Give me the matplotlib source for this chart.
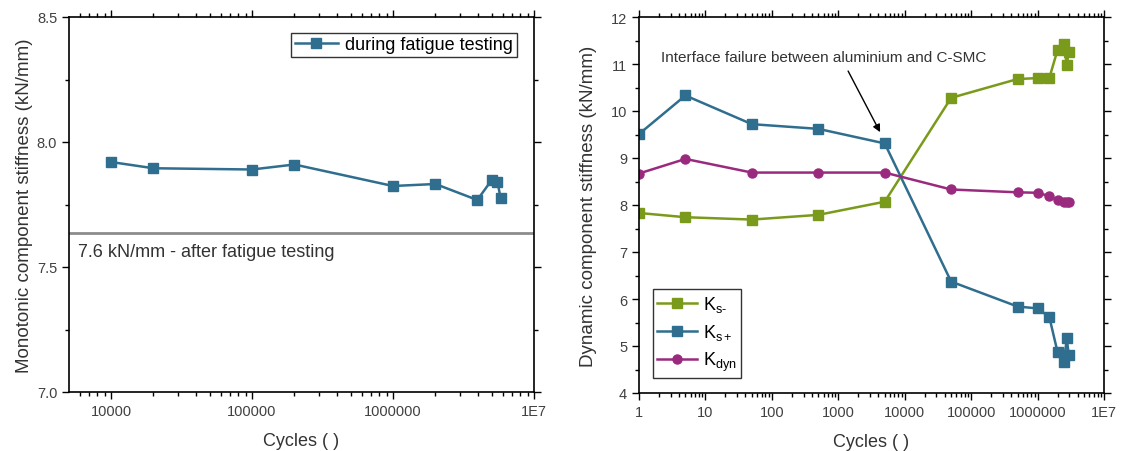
import matplotlib
matplotlib.use("Agg")
import matplotlib.pyplot as plt
import matplotlib.ticker as mticker
import numpy as np

plt.rcParams['font.family'] = ['Liberation Sans', 'DejaVu Sans']
plt.rcParams['mathtext.fontset'] = 'custom'
plt.rcParams['mathtext.rm'] = 'Liberation Sans'
plt.rcParams['mathtext.it'] = 'Liberation Sans'

# ---- left panel data ----
mono_cycles = [10000, 20000, 100000, 200000, 1000000, 2000000, 3960000, 5000000, 5500000, 5800000]
mono_stiff = [7.92, 7.895, 7.89, 7.91, 7.824, 7.832, 7.768, 7.847, 7.842, 7.775]
after_fatigue = 7.638
after_label = "7.6 kN/mm - after fatigue testing"

# ---- right panel data ----
dyn_cycles = [1, 5, 50, 500, 5000, 50000, 500000, 1000000, 1500000, 2000000, 2500000, 2750000, 2950000]
ks_minus = [7.83, 7.74, 7.69, 7.79, 8.07, 10.28, 10.68, 10.70, 10.70, 11.30, 11.43, 10.98, 11.26]
ks_plus = [9.51, 10.33, 9.72, 9.62, 9.31, 6.37, 5.84, 5.80, 5.62, 4.87, 4.67, 5.16, 4.81]
k_dyn = [8.67, 8.98, 8.69, 8.69, 8.69, 8.33, 8.27, 8.26, 8.19, 8.11, 8.07, 8.06, 8.06]
note = 'Interface failure between aluminium and C-SMC'

blue = '#2F6E8E'
green = '#7A9A1B'
purple = '#9A2A7E'
tick_col = '#404040'
text_col = '#333333'

fig = plt.figure(figsize=(11.21, 4.52), dpi=100)
axL = fig.add_axes([69/1121, 59/452, 465/1121, 375/452])
axR = fig.add_axes([639/1121, 58/452, 465/1121, 376/452])


def style(ax):
    ax.set_xscale('log')
    ax.tick_params(which='both', direction='out', top=True, right=True,
                   labelsize=10.5, labelcolor=tick_col, width=1, color='black')
    ax.tick_params(which='major', length=5)
    ax.tick_params(which='minor', length=3)
    for s in ax.spines.values():
        s.set_linewidth(1.2)


def fmt(x, pos):
    if x >= 1e7 - 1:
        return '1E7'
    return '%d' % int(round(x))


def log_x(ax):
    ax.xaxis.set_major_locator(mticker.LogLocator(base=10, numticks=20))
    ax.xaxis.set_minor_locator(mticker.LogLocator(base=10, subs=np.arange(2, 10), numticks=20))
    ax.xaxis.set_major_formatter(mticker.FuncFormatter(fmt))
    ax.xaxis.set_minor_formatter(mticker.NullFormatter())


# left
style(axL)
axL.plot(mono_cycles, mono_stiff, '-s', color=blue, lw=1.8, ms=6.5,
         label='during fatigue testing')
axL.axhline(after_fatigue, color='#8c8c8c', lw=2)
axL.text(0.019, 7.56, after_label, transform=axL.get_yaxis_transform(),
         fontsize=13, color=text_col, va='center', ha='left')
axL.set_xlim(5040, 1e7)
axL.set_ylim(7.0, 8.5)
axL.yaxis.set_major_locator(mticker.MultipleLocator(0.5))
axL.yaxis.set_minor_locator(mticker.MultipleLocator(0.25))
axL.yaxis.set_major_formatter(mticker.FormatStrFormatter('%.1f'))
log_x(axL)
axL.set_xlabel('Cycles ( )', fontsize=13, color=text_col, labelpad=10)
axL.set_ylabel('Monotonic component stiffness (kN/mm)', fontsize=13.5, color=text_col, labelpad=3)
legL = axL.legend(loc='upper right', bbox_to_anchor=(0.963, 0.958), fontsize=13,
                  frameon=True, fancybox=False, edgecolor='black', handlelength=2.4,
                  borderpad=0.2, handletextpad=0.4, borderaxespad=0)
legL.get_frame().set_linewidth(1.0)

# right
style(axR)
axR.plot(dyn_cycles, ks_minus, '-s', color=green, lw=1.8, ms=6.5, label=r'K$_{\mathrm{s}\text{-}}$')
axR.plot(dyn_cycles, ks_plus, '-s', color=blue, lw=1.8, ms=6.5, label=r'K$_{\mathrm{s+}}$')
axR.plot(dyn_cycles, k_dyn, '-o', color=purple, lw=1.8, ms=6.5, label=r'K$_{\mathrm{dyn}}$')
axR.set_xlim(1, 1e7)
axR.set_ylim(4, 12)
axR.yaxis.set_major_locator(mticker.MultipleLocator(1))
axR.yaxis.set_minor_locator(mticker.MultipleLocator(0.5))
log_x(axR)
axR.set_xlabel('Cycles ( )', fontsize=13, color=text_col, labelpad=10)
axR.set_ylabel('Dynamic component stiffness (kN/mm)', fontsize=13.5, color=text_col, labelpad=10)
axR.text(600, 11.15, note, fontsize=11, color=text_col, ha='center', va='center')
axR.annotate('', xy=(4260, 9.55), xytext=(1406, 10.85),
             arrowprops=dict(arrowstyle='-|>', color='black', lw=1.0,
                             shrinkA=0, shrinkB=0, mutation_scale=11))
legR = axR.legend(loc='lower left', bbox_to_anchor=(0.03, 0.04), fontsize=13,
                  frameon=True, fancybox=False, edgecolor='black', handlelength=2.2,
                  borderpad=0.25, handletextpad=0.3, labelspacing=0.45, borderaxespad=0)
legR.get_frame().set_linewidth(1.0)

fig.savefig('out.png', dpi=100)
